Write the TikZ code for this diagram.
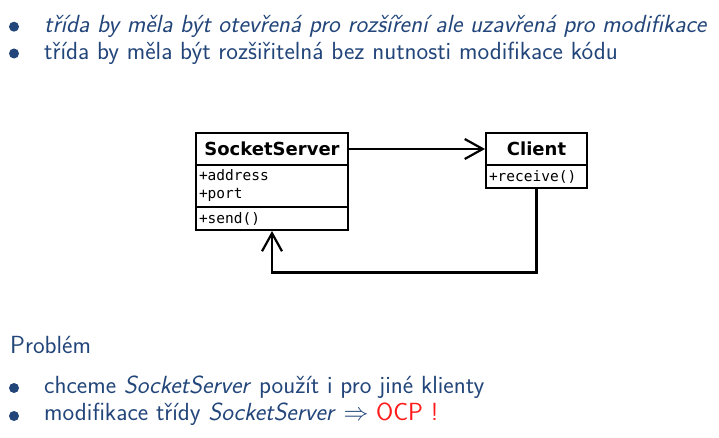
\documentclass[tikz,border=0pt]{standalone}
\usepackage{fontspec}
\usetikzlibrary{arrows.meta}
\newfontfamily\umlbold{DejaVu Sans}
\newfontfamily\umlmono{DejaVu Sans Mono}
\definecolor{slidetext}{HTML}{23467A}
\definecolor{ocpred}{HTML}{FF1A1A}
\tikzset{
  bul/.style={circle,fill=slidetext,minimum size=10pt,inner sep=0pt},
  slide/.style={anchor=base west,inner sep=0pt,text=slidetext,font=\sffamily\fontsize{24.8}{29}\selectfont},
  cls/.style={draw=black,line width=2pt,inner sep=0pt},
  ctitle/.style={cls,font=\umlbold\bfseries\fontsize{18}{20}\selectfont},
  cbody/.style={cls,font=\umlmono\fontsize{14.5}{18}\selectfont,align=left,text width=#1,inner xsep=3pt},
  assoc/.style={draw=black,line width=2.2pt,-{Straight Barb[length=18pt,width=20pt,line width=2.2pt]}}
}
\begin{document}
\begin{tikzpicture}[x=1pt,y=-1pt]
\useasboundingbox (0,0) rectangle (719,438);
% top bullets
\node[bul] (b1) at (14,26.7) {};
\node[slide] (t1) at (44,33) {\itshape třída by měla být otevřená pro rozšíření ale uzavřená pro modifikace};
\node[bul] (b2) at (14,53.5) {};
\node[slide] (t2) at (44,60) {třída by měla být rozšiřitelná bez nutnosti modifikace kódu};
% UML
\node[ctitle,minimum width=152pt,minimum height=32pt] (sst) at (272,149) {SocketServer};
\node[cbody=146pt,minimum width=152pt,minimum height=42pt] (ssa) at (272,186) {+address\\+port};
\node[cbody=146pt,minimum width=152pt,minimum height=23pt] (sso) at (272,218.5) {+send()};
\node[ctitle,minimum width=101pt,minimum height=32pt] (clt) at (536.5,149) {Client};
\node[cbody=95pt,minimum width=101pt,minimum height=23pt] (clo) at (536.5,176.5) {+receive()};
\draw[assoc] (sst.east) -- (clt.west);
\draw[assoc] (clo.south) -- ++(0,83.5) -| (sso.south);
% problem
\node[slide] (p) at (10,353) {Problém};
\node[bul] (b3) at (14,388) {};
\node[slide] (t3) at (44,393) {chceme \textit{SocketServer} použít i pro jiné klienty};
\node[bul] (b4) at (14,416) {};
\node[slide] (t4) at (44,420) {modifikace třídy \textit{SocketServer} $\Rightarrow$ \textcolor{ocpred}{OCP !}};
\end{tikzpicture}
\end{document}
